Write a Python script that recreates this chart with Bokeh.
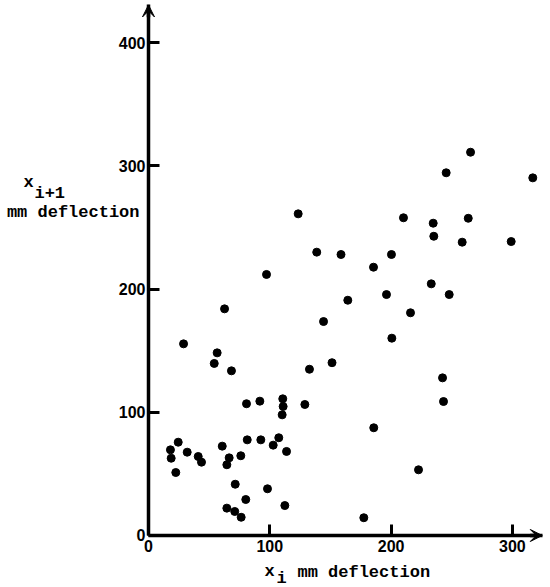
from bokeh.plotting import figure
from bokeh.models import Range1d, FixedTicker, Label, Arrow, VeeHead
from bokeh.embed import file_html
from bokeh.resources import INLINE

# x_i (mm deflection) and x_{i+1} (mm deflection)
x_i = [123.4, 138.7, 158.7, 97.3, 62.7, 144.3, 28.9, 56.6, 54.2, 68.4, 132.7, 151.3,
       80.8, 91.8, 110.7, 111.0, 110.2, 128.9, 24.5, 18.1, 18.7, 31.9, 41.0, 43.7,
       22.5, 60.8, 66.5, 64.6, 76.1, 81.4, 92.6, 102.8, 107.4, 113.8, 71.5, 98.1,
       80.2, 112.4, 64.6, 71.1, 76.4, 177.5, 265.5, 245.4, 316.8, 210.2, 234.7, 263.6,
       235.2, 258.6, 299.0, 200.3, 185.5, 233.1, 196.2, 247.9, 164.3, 216.0, 200.6,
       242.4, 243.2, 185.7, 222.6]
x_next = [261.0, 229.9, 228.0, 211.8, 183.9, 173.6, 155.5, 148.2, 139.6, 133.6, 134.9, 140.2,
          106.9, 109.0, 110.9, 104.7, 97.9, 106.3, 75.7, 69.5, 62.7, 67.6, 64.1, 59.5,
          51.1, 72.5, 63.0, 57.4, 64.7, 77.6, 77.6, 73.3, 79.3, 68.2, 41.6, 37.9,
          29.2, 24.3, 22.2, 19.5, 14.8, 14.4, 311.0, 294.3, 290.2, 257.8, 253.4, 257.4,
          242.8, 238.0, 238.5, 228.0, 217.7, 204.2, 195.5, 195.5, 190.9, 180.7, 160.1,
          127.9, 108.7, 87.4, 53.3]

x_ticks = [0, 100, 200, 300]
y_ticks = [0, 100, 200, 300, 400]

XMAX = 324.6   # end of x axis (arrow tip)
YMAX = 430.5   # end of y axis (arrow tip)

p = figure(width=550, height=587, output_backend="svg", toolbar_location=None,
           x_range=Range1d(-122.0, 331.4), y_range=Range1d(-42.2, 434.1),
           min_border_left=0, min_border_right=0, min_border_top=0, min_border_bottom=0)
p.outline_line_color = None
p.xgrid.visible = False
p.ygrid.visible = False
p.background_fill_color = "white"
p.border_fill_color = "white"

for ax, ticks, bnd in ((p.xaxis[0], x_ticks, (0, XMAX)), (p.yaxis[0], y_ticks, (0, YMAX))):
    ax.ticker = FixedTicker(ticks=ticks)
    ax.fixed_location = 0
    ax.bounds = bnd
    ax.axis_line_width = 3.5
    ax.axis_line_color = "black"
    ax.major_tick_in = 11
    ax.major_tick_out = 0
    ax.major_tick_line_width = 3
    ax.major_tick_line_color = "black"
    ax.minor_tick_line_color = None
    ax.major_label_text_font = "Liberation Sans"
    ax.major_label_text_font_style = "bold"
    ax.major_label_text_font_size = "16px"
    ax.major_label_text_color = "black"
p.xaxis.major_label_standoff = 5
p.yaxis.major_label_standoff = 3

p.scatter(x_i, x_next, size=8, color="black")

# arrow heads on the axes
p.add_layout(Arrow(end=VeeHead(size=12, fill_color="black", line_color="black"),
                   x_start=XMAX - 10, y_start=0, x_end=XMAX, y_end=0,
                   line_width=3.5, line_color="black"))
p.add_layout(Arrow(end=VeeHead(size=12, fill_color="black", line_color="black"),
                   x_start=0, y_start=YMAX - 10, x_end=0, y_end=YMAX,
                   line_width=3.5, line_color="black"))

def lab(x, y, t, align="left", size="17px"):
    p.add_layout(Label(x=x, y=y, text=t, text_align=align, text_baseline="alphabetic",
                       text_font="Liberation Mono", text_font_style="bold",
                       text_font_size=size, text_color="black"))

# y-axis label (horizontal, left of axis)
lab(-103.0, 286.4, "x")
lab(-94.0, 277.5, "i+1")
lab(-7.4, 262.1, "mm deflection", align="right")
# x-axis label
lab(95.6, -29.5, "x")
lab(105.5, -35.3, "i")
lab(122.8, -30.3, "mm deflection")

open("out.html", "w").write(file_html(p, INLINE))
